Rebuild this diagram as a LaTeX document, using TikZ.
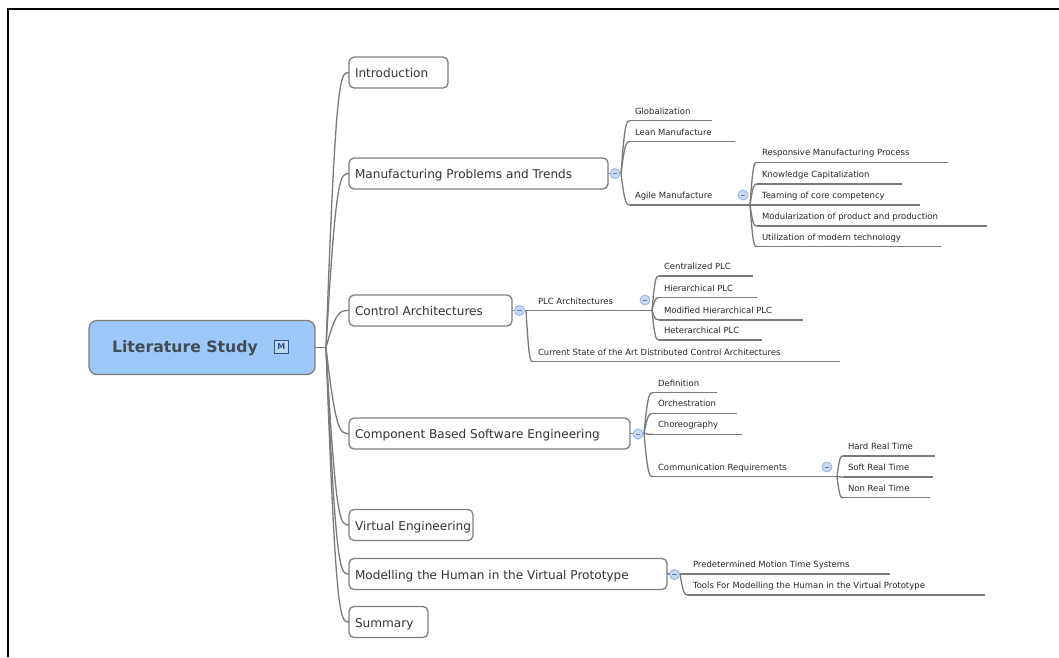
\documentclass[tikz,border=0pt]{standalone}
\usepackage{fontspec}
\newfontfamily\mapfont{DejaVu Sans}
\usetikzlibrary{calc}

\definecolor{linegray}{HTML}{7A7A7A}
\definecolor{boxgray}{HTML}{7F7F7F}
\definecolor{txt}{HTML}{333333}
\definecolor{subtxt}{HTML}{262626}
\definecolor{rootfill}{HTML}{9CC9F9}
\definecolor{roottxt}{HTML}{434B55}
\definecolor{iconfill}{HTML}{C8DAF4}
\definecolor{iconline}{HTML}{93B1E3}
\definecolor{iconminus}{HTML}{5F7FB8}
\definecolor{mfill}{HTML}{BCD5F0}
\definecolor{mline}{HTML}{2E5688}

\tikzset{
  conn/.style={draw=linegray, line width=1.3pt},
  rootbox/.style={draw=boxgray, line width=1.3pt, fill=rootfill, rounded corners=8pt,
    minimum height=54pt, inner xsep=23pt, inner ysep=0pt, outer sep=0pt,
    text height=12pt, text depth=3pt, text=roottxt,
    font=\mapfont\bfseries\fontsize{15.7}{18}\selectfont},
  markbox/.style={draw=mline, fill=mfill, line width=1pt, minimum width=13.5pt,
    minimum height=13pt, inner sep=0pt, text=mline,
    font=\mapfont\bfseries\fontsize{8}{8}\selectfont},
  mainbox/.style={draw=boxgray, line width=1.3pt, fill=white, rounded corners=5pt,
    minimum height=31pt, inner xsep=6pt, inner ysep=0pt, outer sep=0pt,
    text height=11pt, text depth=1pt, anchor=west, text=txt,
    font=\mapfont\fontsize{12.1}{14}\selectfont},
  subtopic/.style={anchor=south west, inner xsep=5pt, inner ysep=0pt, outer sep=0pt,
    text height=7pt, text depth=6.5pt, text=subtxt,
    font=\mapfont\fontsize{8.5}{10}\selectfont},
  collapse/.style={circle, draw=iconline, fill=iconfill, line width=0.8pt,
    minimum size=10pt, inner sep=0pt,
    path picture={\draw[iconminus, line width=0.9pt]
      ([xshift=-2.3pt]path picture bounding box.center) --
      ([xshift=2.3pt]path picture bounding box.center);}}
}

% curved branch from a parent point to a child anchor
\newcommand\linkcurve[2]{\draw[conn] let \p1=(#1), \p2=(#2) in
  (\p1) .. controls ({\x1+0.43*(\x2-\x1)},\y2) and ({\x1+0.61*(\x2-\x1)},\y2) .. (\p2);}

% underlined subtopic: name, start x, underline y, end x, text
\newcommand\subtopic[5]{%
  \node[subtopic] (#1) at (#2,#3) {\makebox[\dimexpr#4pt-#2pt-10pt\relax][l]{#5}};
  \draw[conn] (#1.south west) -- (#1.south east);}

\begin{document}
\begin{tikzpicture}[x=1pt,y=-1pt]
\useasboundingbox (0,0) rectangle (1059,657);

% frame
\draw[black, line width=1.5pt] (1059,9) -- (8,9) -- (8,657);

% central topic
\node[rootbox] (root) at (202,347.5) {\makebox[180pt][l]{Literature Study}};
\node[markbox] (rootmark) at (281.3,346.7) {M};

% main topics
\node[mainbox] (intro) at (349,72.5)  {\makebox[87pt][l]{Introduction}};
\node[mainbox] (mfg)   at (349,173.5) {\makebox[247pt][l]{Manufacturing Problems and Trends}};
\node[mainbox] (ctrl)  at (349,310.5) {\makebox[151pt][l]{Control Architectures}};
\node[mainbox] (cbse)  at (349,433.5) {\makebox[269pt][l]{Component Based Software Engineering}};
\node[mainbox] (virt)  at (349,525)   {\makebox[112pt][l]{Virtual Engineering}};
\node[mainbox] (model) at (349,574)   {\makebox[306pt][l]{Modelling the Human in the Virtual Prototype}};
\node[mainbox] (summ)  at (349,622)   {\makebox[67pt][l]{Summary}};

\draw[conn] (root.east) -- (326,347.5) coordinate (hub);
\foreach \t in {intro,mfg,ctrl,cbse,virt,model,summ} {\linkcurve{hub}{\t.west}}

% Manufacturing Problems and Trends
\coordinate (mfgout) at (621,173.5);
\draw[conn] (mfg.east) -- (mfgout);
\subtopic{glob}{630}{120.7}{712}{Globalization}
\subtopic{lean}{630}{141.7}{735}{Lean Manufacture}
\subtopic{agile}{630}{205}{750}{Agile Manufacture}
\foreach \t in {glob,lean,agile} {\linkcurve{mfgout}{\t.south west}}

\subtopic{resp}{757}{162.3}{948}{Responsive Manufacturing Process}
\subtopic{know}{757}{184}{902}{Knowledge Capitalization}
\subtopic{team}{757}{205}{920}{Teaming of core competency}
\subtopic{modu}{757}{226}{987}{Modularization of product and production}
\subtopic{util}{757}{246.7}{941}{Utilization of modern technology}
\foreach \t in {resp,know,team,modu,util} {\linkcurve{agile.south east}{\t.south west}}

% Control Architectures
\coordinate (ctrlout) at (526,310.5);
\draw[conn] (ctrl.east) -- (ctrlout);
\subtopic{plc}{533}{310.5}{652}{PLC Architectures}
\subtopic{state}{533}{361.7}{840}{Current State of the Art Distributed Control Architectures}
\foreach \t in {plc,state} {\linkcurve{ctrlout}{\t.south west}}

\subtopic{cent}{659}{276}{753}{Centralized PLC}
\subtopic{hier}{659}{297.7}{757}{Hierarchical PLC}
\subtopic{modh}{659}{320}{803}{Modified Hierarchical PLC}
\subtopic{hete}{659}{340}{762}{Heterarchical PLC}
\foreach \t in {cent,hier,modh,hete} {\linkcurve{plc.south east}{\t.south west}}

% Component Based Software Engineering
\coordinate (cbseout) at (644,433.5);
\draw[conn] (cbse.east) -- (cbseout);
\subtopic{defi}{653}{392.7}{717}{Definition}
\subtopic{orch}{653}{413.3}{737}{Orchestration}
\subtopic{chor}{653}{434.3}{742}{Choreography}
\subtopic{comm}{653}{476.7}{837}{Communication Requirements}
\foreach \t in {defi,orch,chor,comm} {\linkcurve{cbseout}{\t.south west}}

\subtopic{hard}{843}{456}{935}{Hard Real Time}
\subtopic{soft}{843}{477}{933}{Soft Real Time}
\subtopic{nonr}{843}{497.7}{930}{Non Real Time}
\foreach \t in {hard,soft,nonr} {\linkcurve{comm.south east}{\t.south west}}

% Modelling the Human in the Virtual Prototype
\coordinate (modelout) at (680,574);
\draw[conn] (model.east) -- (modelout);
\subtopic{pmts}{688}{574}{890}{Predetermined Motion Time Systems}
\subtopic{tools}{688}{595}{985}{Tools For Modelling the Human in the Virtual Prototype}
\foreach \t in {pmts,tools} {\linkcurve{modelout}{\t.south west}}

% collapse markers
\node[collapse] (mfgicon)   at (615,173.5) {};
\node[collapse] (agileicon) at (743,195) {};
\node[collapse] (ctrlicon)  at (519.5,310.5) {};
\node[collapse] (plcicon)   at (645,300) {};
\node[collapse] (cbseicon)  at (638,434) {};
\node[collapse] (commicon)  at (827,467) {};
\node[collapse] (modelicon) at (674.5,574.5) {};
\end{tikzpicture}
\end{document}
